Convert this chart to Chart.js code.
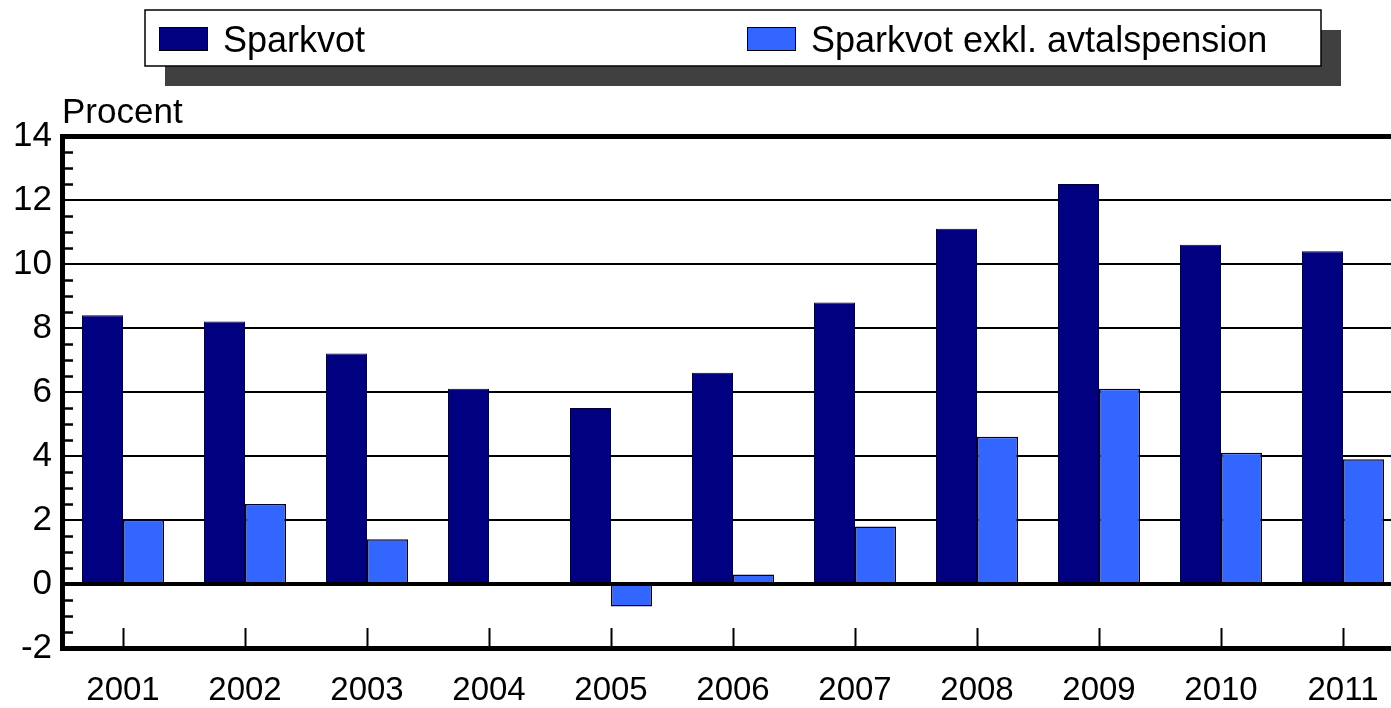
<!DOCTYPE html>
<html lang="sv">
<head>
    <meta charset="UTF-8">
    <title>Sparkvot</title>
    <script src="https://cdn.jsdelivr.net/npm/chart.js"></script>
    <style>
        body, html {
            margin: 0;
            padding: 0;
            overflow: hidden;
            background: #fff;
            font-family: Arial, "Liberation Sans", sans-serif;
        }
        canvas { display: block; }
    </style>
</head>
<body>
    <canvas id="savingsChart" width="1404" height="708"></canvas>

    <script>
        const years = ["2001", "2002", "2003", "2004", "2005", "2006", "2007", "2008", "2009", "2010", "2011"];
        const sparkvot = [8.4, 8.2, 7.2, 6.1, 5.5, 6.6, 8.8, 11.1, 12.5, 10.6, 10.4];
        const sparkvotExkl = [2.0, 2.5, 1.4, 0.0, -0.7, 0.3, 1.8, 4.6, 6.1, 4.1, 3.9];
        const yMin = -2, yMax = 14, yStep = 2;

        const FONT = 'Arial, "Liberation Sans", sans-serif';

        // legend box with shadow, "Procent" label, inner tick marks
        const decorations = {
            id: 'decorations',
            afterDraw(chart) {
                const ctx = chart.ctx;
                const area = chart.chartArea;
                const x = chart.scales.x, y = chart.scales.y;
                ctx.save();

                // y minor ticks every 0.5, pointing into the plot
                ctx.strokeStyle = '#000';
                ctx.lineWidth = 2.5;
                for (let v = yMin + 0.5; v < yMax; v += 0.5) {
                    if (Math.abs(v % yStep) < 1e-9) continue;
                    const py = Math.round(y.getPixelForValue(v)) + 0.5;
                    ctx.beginPath();
                    ctx.moveTo(area.left, py);
                    ctx.lineTo(area.left + 11, py);
                    ctx.stroke();
                }
                // x ticks at category centres, rising from bottom axis
                ctx.lineWidth = 2;
                years.forEach((_, i) => {
                    const px = Math.round(x.getPixelForValue(i)) + 0.5;
                    ctx.beginPath();
                    ctx.moveTo(px, area.bottom);
                    ctx.lineTo(px, area.bottom - 20);
                    ctx.stroke();
                });

                // "Procent"
                ctx.fillStyle = '#000';
                ctx.font = '35px ' + FONT;
                ctx.textBaseline = 'alphabetic';
                ctx.textAlign = 'left';
                ctx.fillText('Procent', 62, 123);

                // legend
                const bx = 145, by = 10, bw = 1176, bh = 56;
                ctx.fillStyle = '#404040';
                ctx.fillRect(bx + 20, by + 20, bw, bh);
                ctx.fillStyle = '#fff';
                ctx.fillRect(bx, by, bw, bh);
                ctx.strokeStyle = '#000';
                ctx.lineWidth = 1.5;
                ctx.strokeRect(bx, by, bw, bh);

                const itemX = [159, 747];
                chart.data.datasets.forEach((ds, i) => {
                    ctx.fillStyle = ds.backgroundColor;
                    ctx.fillRect(itemX[i], 27, 48, 23);
                    ctx.strokeStyle = '#000';
                    ctx.lineWidth = 1;
                    ctx.strokeRect(itemX[i] + 0.5, 27.5, 48, 23);
                    ctx.fillStyle = '#000';
                    ctx.font = '36px ' + FONT;
                    ctx.textBaseline = 'middle';
                    ctx.fillText(ds.label, itemX[i] + 64, 42);
                });
                ctx.restore();
            }
        };

        new Chart(document.getElementById('savingsChart'), {
            type: 'bar',
            data: {
                labels: years,
                datasets: [
                    {
                        label: 'Sparkvot',
                        data: sparkvot,
                        backgroundColor: '#000080',
                        borderColor: '#000040',
                        borderWidth: 1
                    },
                    {
                        label: 'Sparkvot exkl. avtalspension',
                        data: sparkvotExkl,
                        backgroundColor: '#3366ff',
                        borderColor: '#000033',
                        borderWidth: 1.5
                    }
                ]
            },
            options: {
                responsive: false,
                animation: false,
                layout: { padding: { top: 136, left: 0, right: 0, bottom: 0 } },
                datasets: { bar: { categoryPercentage: 0.672, barPercentage: 1 } },
                scales: {
                    x: {
                        grid: { display: false, drawTicks: false },
                        border: { display: true, color: '#000', width: 5 },
                        ticks: { color: '#000', font: { family: FONT, size: 33 }, padding: 23, maxRotation: 0 },
                        afterFit: (s) => { s.height = 60; }
                    },
                    y: {
                        min: yMin,
                        max: yMax,
                        grid: {
                            color: '#000',
                            drawTicks: false,
                            lineWidth: (c) => {
                                const v = c.tick.value;
                                if (v === yMax || v === yMin) return 5;
                                if (v === 0) return 4;
                                return 2;
                            }
                        },
                        border: { display: true, color: '#000', width: 5 },
                        ticks: { stepSize: yStep, color: '#000', font: { family: FONT, size: 35 }, padding: 10 },
                        afterFit: (s) => { s.width = 62; }
                    }
                },
                plugins: {
                    legend: { display: false },
                    tooltip: { enabled: false }
                }
            },
            plugins: [decorations]
        });
    </script>
</body>
</html>
